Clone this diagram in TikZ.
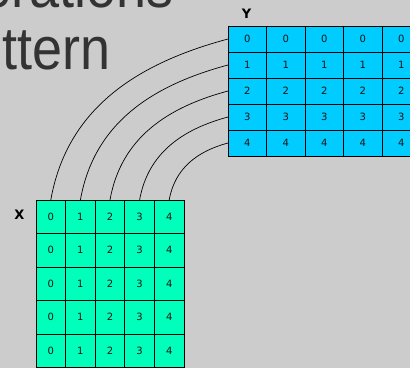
\documentclass[tikz,border=0pt]{standalone}
\usepackage{fontspec}
\usepackage{graphicx}
\setmainfont{DejaVu Sans}
\newfontfamily\titlefont{Liberation Sans}
\definecolor{bgc}{RGB}{204,204,204}
\definecolor{ycell}{RGB}{0,204,255}
\definecolor{xcell}{RGB}{0,255,187}
\definecolor{titlec}{RGB}{51,51,51}
\definecolor{digitc}{RGB}{20,20,20}
\tikzset{
  ybox/.style={draw=black, line width=0.8pt, fill=ycell, minimum width=38.5pt, minimum height=26pt,
    inner sep=0pt, outer sep=0pt, font=\fontsize{10}{12}\selectfont, text=digitc},
  xbox/.style={draw=black, line width=0.8pt, fill=xcell, minimum width=29.6pt, minimum height=33.5pt,
    inner sep=0pt, outer sep=0pt, font=\fontsize{10}{12}\selectfont, text=digitc},
  lbl/.style={font=\fontsize{13}{15}\selectfont\bfseries, text=black, inner sep=0pt},
  ttl/.style={font=\titlefont\fontsize{60}{62}\selectfont, text=titlec, inner sep=0pt, anchor=base east},
  link/.style={draw=black, line width=0.7pt}
}
\begin{document}
\begin{tikzpicture}[x=1pt,y=1pt]
\useasboundingbox (0,0) rectangle (410,368);
\fill[bgc] (0,0) rectangle (410,368);
\clip (0,0) rectangle (410,368);
% title fragments
\node[ttl] (t1) at (173.5,360) {\scalebox{0.9}[1]{erations}};
\node[ttl] (t2) at (111,299) {\scalebox{0.9}[1]{ttern}};
% Y grid
\foreach \r in {0,...,4} {
  \foreach \c in {0,...,4} {
    \node[ybox] (y-\r-\c) at ({228+38.5/2+38.5*\c},{368-26-13-26*\r}) {\r};
  }
}
% X grid
\foreach \r in {0,...,4} {
  \foreach \c in {0,...,4} {
    \node[xbox] (x-\r-\c) at ({36+29.6/2+29.6*\c},{368-200-33.5/2-33.5*\r}) {\c};
  }
}
\node[lbl] (ylab) at (246.5,354) {Y};
\node[lbl] (xlab) at (19.5,153.5) {X};
% connectors
\foreach \i in {0,...,4} {
  \draw[link] (y-\i-0.west) to[out=195,in=80] (x-0-\i.north);
}
\end{tikzpicture}
\end{document}
